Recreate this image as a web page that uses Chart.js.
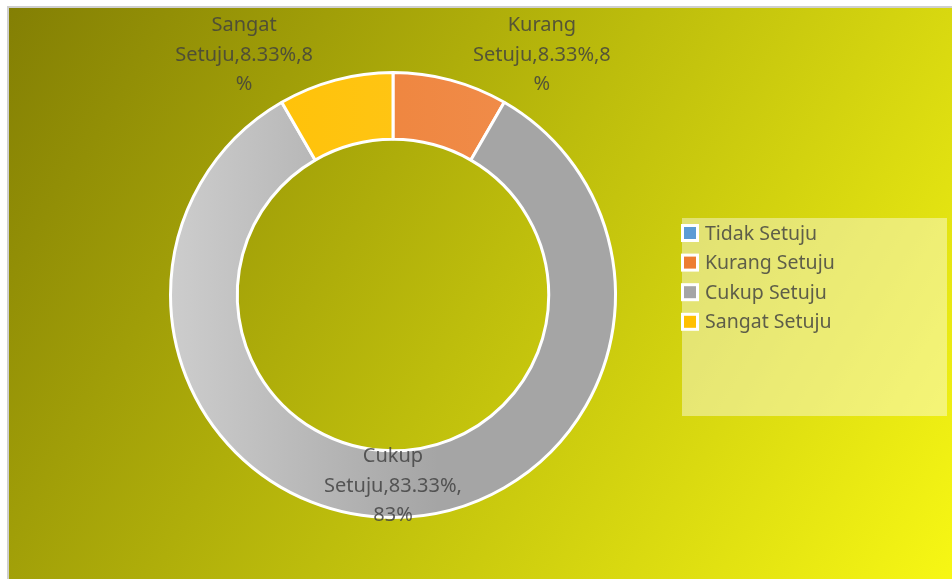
<!DOCTYPE html>
<html><head><meta charset="utf-8">
<script src="https://cdn.jsdelivr.net/npm/chart.js@4"></script>
<style>html,body{margin:0;padding:0;background:#fff;}#wrap{width:952px;height:579px;position:relative;}</style>
</head><body><div id="wrap"><canvas id="c" width="952" height="579"></canvas></div>
<script>
const categories = ["Tidak Setuju", "Kurang Setuju", "Cukup Setuju", "Sangat Setuju"];
const counts = [0, 1, 10, 1];
const percents = ["0.00%", "8.33%", "83.33%", "8.33%"];
const roundedPercents = ["0%", "8%", "83%", "8%"];
const baseColors = ["#5B9BD5", "#ED7D31", "#A5A5A5", "#FFC000"];
const lightColors = ["#7FB2E0", "#F19050", "#CDCDCD", "#FFC926"];

const FONT = '"Noto Sans", "Open Sans", sans-serif';
const TEXT = 'rgba(64,64,64,0.82)';

function segGradient(ctx, i) {
  const chart = ctx.chart;
  const a = chart.chartArea;
  if (!a) return baseColors[i];
  const g = chart.ctx.createLinearGradient(a.left, 0, a.right, 0);
  if (i === 2) {
    g.addColorStop(0, lightColors[i]);
    g.addColorStop(0.6, baseColors[i]);
    g.addColorStop(1, baseColors[i]);
  } else {
    g.addColorStop(0, baseColors[i]);
    g.addColorStop(1, lightColors[i]);
  }
  return g;
}

const bgPlugin = {
  id: 'bg',
  beforeDraw(chart) {
    const c = chart.ctx;
    c.save();
    c.fillStyle = '#ffffff';
    c.fillRect(0, 0, chart.width, chart.height);
    const g = c.createLinearGradient(8, 7, chart.width, chart.height);
    g.addColorStop(0, '#837F04');
    g.addColorStop(0.5, '#BDBD0C');
    g.addColorStop(1, '#F7F714');
    c.fillStyle = g;
    c.fillRect(8, 7, chart.width - 8, chart.height - 7);
    c.strokeStyle = '#CFCFCF';
    c.lineWidth = 2;
    c.beginPath();
    c.moveTo(8, chart.height);
    c.lineTo(8, 7);
    c.lineTo(chart.width, 7);
    c.stroke();
    c.restore();
  }
};

const labelPlugin = {
  id: 'dlabels',
  afterDatasetsDraw(chart) {
    const c = chart.ctx;
    const meta = chart.getDatasetMeta(0);
    c.save();
    c.font = '20px ' + FONT;
    c.fillStyle = TEXT;
    c.textAlign = 'center';
    c.textBaseline = 'middle';
    const lh = 29.5;
    meta.data.forEach((arc, i) => {
      if (!counts[i]) return;
      const p = arc.getProps(['x', 'y', 'startAngle', 'endAngle', 'innerRadius', 'outerRadius'], true);
      const mid = (p.startAngle + p.endAngle) / 2;
      let lines, x, y;
      if (i === 2) {
        const r = (p.innerRadius + p.outerRadius) / 2;
        x = p.x + Math.cos(mid) * r;
        y = p.y + Math.sin(mid) * r + 2;
        lines = ["Cukup", "Setuju," + percents[i] + ",", roundedPercents[i]];
      } else {
        const words = categories[i].split(' ');
        lines = [words[0], words[1] + "," + percents[i] + "," + roundedPercents[i].slice(0, -1), "%"];
        const dir = i === 1 ? 1 : -1;
        const ang = -Math.PI / 2 + dir * 0.555;
        const r = p.outerRadius * 1.27;
        x = p.x + Math.cos(ang) * r;
        y = p.y + Math.sin(ang) * r;
      }
      lines.forEach((t, k) => c.fillText(t, x, y + (k - 1) * lh));
    });
    c.restore();
  }
};

const legendPlugin = {
  id: 'customLegend',
  afterDraw(chart) {
    const c = chart.ctx;
    c.save();
    c.fillStyle = 'rgba(255,255,255,0.42)';
    c.fillRect(682, 218, 265, 198);
    c.font = '19.5px ' + FONT;
    c.textBaseline = 'middle';
    c.textAlign = 'left';
    categories.forEach((name, i) => {
      const y = 233 + i * 29.6;
      c.fillStyle = '#ffffff';
      c.fillRect(681, y - 9, 18, 18);
      c.fillStyle = baseColors[i];
      c.fillRect(684, y - 6, 12, 12);
      c.fillStyle = TEXT;
      c.fillText(name, 705, y + 1);
    });
    c.restore();
  }
};

new Chart(document.getElementById('c'), {
  type: 'doughnut',
  data: {
    labels: categories,
    datasets: [{
      data: counts,
      backgroundColor: (ctx) => segGradient(ctx, ctx.dataIndex),
      borderColor: '#ffffff',
      borderWidth: 3,
      hoverOffset: 0
    }]
  },
  options: {
    responsive: false,
    animation: false,
    cutout: '70%',
    layout: { padding: { left: 169, right: 335, top: 71, bottom: 60 } },
    plugins: { legend: { display: false }, tooltip: { enabled: false } }
  },
  plugins: [bgPlugin, labelPlugin, legendPlugin]
});
</script></body></html>
